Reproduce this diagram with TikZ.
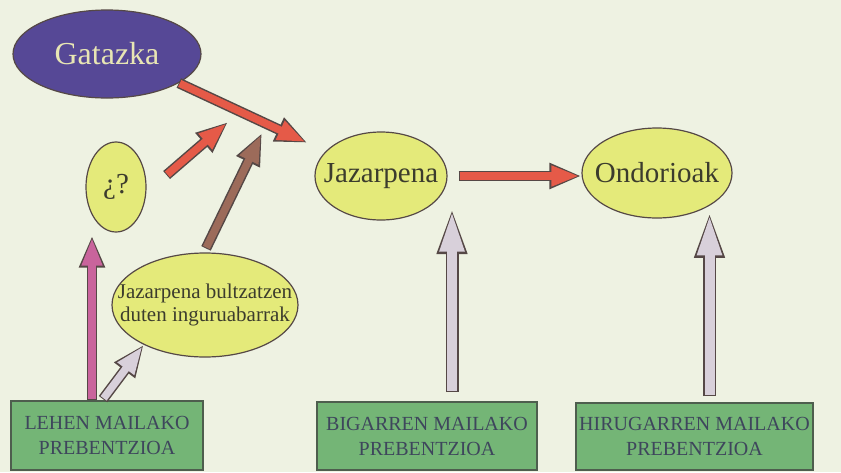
\documentclass[tikz,border=0pt]{standalone}
\usepackage{fontspec}
\setmainfont{Liberation Serif}
\usetikzlibrary{arrows.meta, calc, shapes.geometric}

\definecolor{paper}{RGB}{238,242,226}
\definecolor{gatfill}{RGB}{86,72,150}
\definecolor{gattext}{RGB}{232,230,180}
\definecolor{blobfill}{RGB}{228,234,122}
\definecolor{blobtext}{RGB}{60,60,45}
\definecolor{rim}{RGB}{85,72,70}
\definecolor{boxfill}{RGB}{116,181,118}
\definecolor{boxrim}{RGB}{78,94,78}
\definecolor{boxtext}{RGB}{62,70,92}
\definecolor{redarr}{RGB}{229,90,72}
\definecolor{brownarr}{RGB}{156,107,90}
\definecolor{pinkarr}{RGB}{201,100,156}
\definecolor{mauvearr}{RGB}{216,208,218}

\begin{document}
\begin{tikzpicture}[x=1pt,y=-1pt,font=\fontsize{20}{25}\selectfont]
			\tikzset{
				arr/.style={draw=#1, line width=7.5pt, shorten >=2pt, shorten <=1pt,
					-{Triangle[length=28pt,width=19pt]},
					preaction={draw=rim, line width=10.5pt, shorten >=0pt, shorten <=0pt,
						-{Triangle[length=32pt,width=24pt]}}},
				uparr/.style={draw=#1, line width=10pt, shorten >=2.5pt, shorten <=1pt,
					-{Triangle[length=42pt,width=22pt]},
					preaction={draw=rim, line width=13pt, shorten >=0pt, shorten <=0pt,
						-{Triangle[length=47pt,width=27pt]}}}
			}
			\tikzstyle{blob}=[ellipse, draw=rim, line width=1.2pt, fill=blobfill, text=blobtext, inner ysep=0pt, inner xsep=-12pt, font=\fontsize{29}{32}\selectfont]
			\tikzstyle{prevbox}=[rectangle, draw=boxrim, line width=1.8pt, fill=boxfill, text=boxtext, align=center, inner sep=0pt]
			
			\fill[paper] (0,0) rectangle (841,472);
			\useasboundingbox (0,0) rectangle (841,472);
			
			\node[blob, fill=gatfill, text=gattext, minimum width=188, minimum height=88, font=\fontsize{32}{36}\selectfont] (gat) at (107,54) {Gatazka};
			\node[blob, minimum width=60, minimum height=90] (galde) at (116,187) {¿?};
			\node[blob, minimum width=132, minimum height=88] (jaz) at (381,176) {Jazarpena};
			\node[blob, minimum width=150, minimum height=90] (ond) at (657,173) {Ondorioak};
			\node[blob, minimum width=186, minimum height=104, inner xsep=-22pt, align=center, font=\fontsize{21}{23}\selectfont] (ing) at (205,305) {Jazarpena bultzatzen\\duten inguruabarrak};
			
			\node[prevbox, minimum width=192, minimum height=69] (lehen) at (107,435.5) {LEHEN MAILAKO\\PREBENTZIOA};
			\node[prevbox, minimum width=220, minimum height=68] (bigarren) at (427,436) {BIGARREN MAILAKO\\PREBENTZIOA};
			\node[prevbox, minimum width=237, minimum height=67] (hir) at (694.5,436.5) {HIRUGARREN MAILAKO\\PREBENTZIOA};
			
			\coordinate (meetA) at (228,122);
			\coordinate (meetB) at (262,133);
			\coordinate (jazup) at (452,207);
			
			\draw[arr=redarr] (gat.-22) -- ($(jaz.156)!20pt!(gat.-22)$);
			\draw[arr=redarr] ($(galde.east)+(20,-12)$) -- (meetA);
			\draw[arr=brownarr] ($(ing.north)+(1,-4)$) -- (meetB);
			\draw[arr=redarr] ($(jaz.east)+(11,0)$) -- (ond.west |- jaz.east);
			\draw[arr=pinkarr] ($(lehen.north)+(-15,0)$) -- ($(galde.south)+(-24,3)$);
			\draw[arr=mauvearr] ($(lehen.north)+(-4,-1)$) -- (ing.-147);
			\draw[uparr=mauvearr] ($(bigarren.north)+(25,-9)$) -- (jazup);
			\draw[uparr=mauvearr] ($(hir.north -| ond.-32)+(0,-6)$) -- ($(ond.-32)+(0,5)$);
		\end{tikzpicture}
\end{document}
